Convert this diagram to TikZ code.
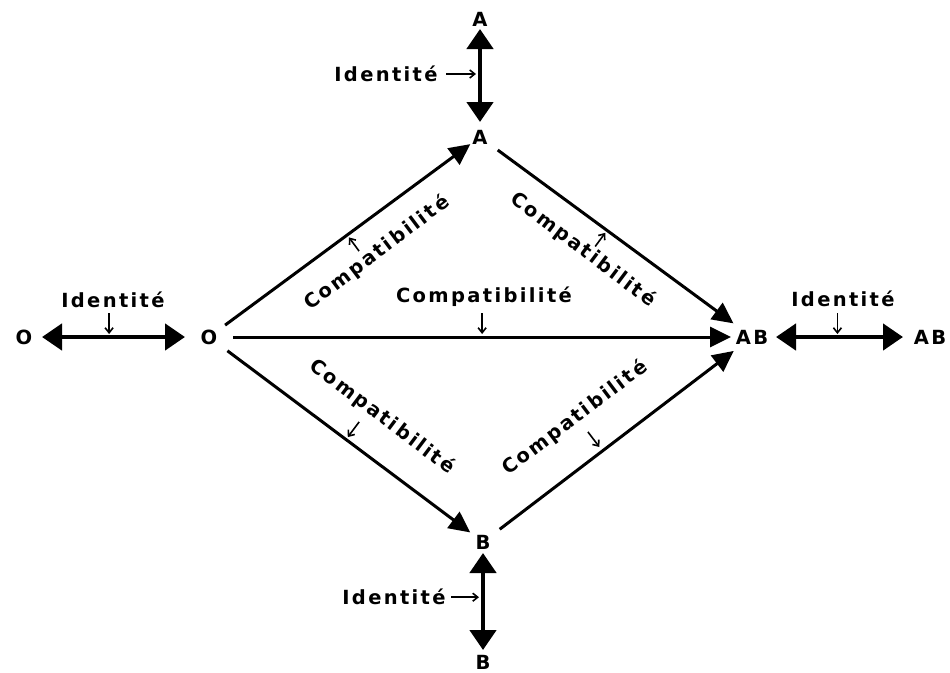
\documentclass[tikz,border=0pt]{standalone}
\usepackage{fontspec}
\setmainfont{DejaVu Sans}[LetterSpace=12]
\usetikzlibrary{arrows.meta,calc}
\begin{document}
\begin{tikzpicture}[x=1pt,y=-1pt,
  lbl/.style={font=\bfseries\fontsize{19.5}{20}\selectfont, inner sep=0pt},
  idarrow/.style={line width=4.5pt, {Triangle[length=20pt,width=26pt]}-{Triangle[length=20pt,width=26pt]}},
  cmparrow/.style={line width=3pt, -{Triangle[length=21pt,width=20pt]}},
  smallarr/.style={line width=1.6pt, -{Straight Barb[length=5pt,width=8pt]}}]
\useasboundingbox (0,0) rectangle (950,672);
% vertices
\node[lbl] (At) at (480,19) {A};
\node[lbl] (A) at (480,137) {A};
\node[lbl] (Ol) at (24,337) {O};
\node[lbl] (O) at (209,337) {O};
\node[lbl] (AB) at (752,337) {AB};
\node[lbl] (ABr) at (930,337) {AB};
\node[lbl] (B) at (483,542) {B};
\node[lbl] (Bb) at (483,662) {B};
% identity arrows
\draw[idarrow, shorten <=10pt, shorten >=15pt] (At.center) -- (A.center);
\draw[idarrow, shorten <=18pt, shorten >=24pt] (Ol.center) -- (O.center);
\draw[idarrow, shorten <=24pt, shorten >=27pt] (AB.center) -- (ABr.center);
\draw[idarrow, shorten <=11pt, shorten >=12pt] (B.center) -- (Bb.center);
% compatibility arrows
\draw[cmparrow, shorten <=20pt, shorten >=12pt] (O.center) -- (A.center);
\draw[cmparrow, shorten <=22pt, shorten >=23pt] (A.center) -- (AB.center);
\draw[cmparrow, shorten <=24pt, shorten >=21pt] (O.center) -- (AB.center);
\draw[cmparrow, shorten <=23pt, shorten >=16pt] (O.center) -- (B.center);
\draw[cmparrow, shorten <=21pt, shorten >=23pt] (B.center) -- (AB.center);
% labels
\node[lbl] (iT) at (386,74) {Identité};
\node[lbl] (iL) at (113,300) {Identité};
\node[lbl] (iR) at (843,299) {Identité};
\node[lbl] (iB) at (394,597) {Identité};
\node[lbl, rotate=37] (cOA) at (377,253) {Compatibilité};
\node[lbl, rotate=-37] (cAAB) at (583,250) {Compatibilité};
\node[lbl] (cOAB) at (484,297) {Compatibilité};
\node[lbl, rotate=-37] (cOB) at (382,417) {Compatibilité};
\node[lbl, rotate=37] (cBAB) at (575,418) {Compatibilité};
% small pointer arrows
\coordinate (mT) at ($(At)!0.466!(A)$);
\draw[smallarr, shorten >=4pt] ($(mT)!34pt!-90:(A)$) -- (mT);
\coordinate (mL) at ($(Ol)!0.46!(O)$);
\draw[smallarr, shorten >=3pt] ($(mL)!24pt!90:(O)$) -- (mL);
\coordinate (mR) at ($(AB)!0.48!(ABr)$);
\draw[smallarr, shorten >=3pt] ($(mR)!24pt!90:(ABr)$) -- (mR);
\coordinate (mB) at ($(B)!0.46!(Bb)$);
\draw[smallarr, shorten >=4pt] ($(mB)!32pt!-90:(Bb)$) -- (mB);
\coordinate (mOA) at ($(O)!0.51!(A)$);
\draw[smallarr, shorten >=3pt] ($(mOA)!20pt!-90:(A)$) -- (mOA);
\coordinate (mAAB) at ($(A)!0.467!(AB)$);
\draw[smallarr, shorten >=3pt] ($(mAAB)!20pt!-90:(AB)$) -- (mAAB);
\coordinate (mOAB) at ($(O)!0.503!(AB)$);
\draw[smallarr, shorten >=3pt] ($(mOAB)!24pt!90:(AB)$) -- (mOAB);
\coordinate (mOB) at ($(O)!0.5!(B)$);
\draw[smallarr, shorten >=3pt] ($(mOB)!22pt!90:(B)$) -- (mOB);
\coordinate (mBAB) at ($(B)!0.444!(AB)$);
\draw[smallarr, shorten >=5pt] ($(mBAB)!24pt!90:(AB)$) -- (mBAB);
\end{tikzpicture}
\end{document}
